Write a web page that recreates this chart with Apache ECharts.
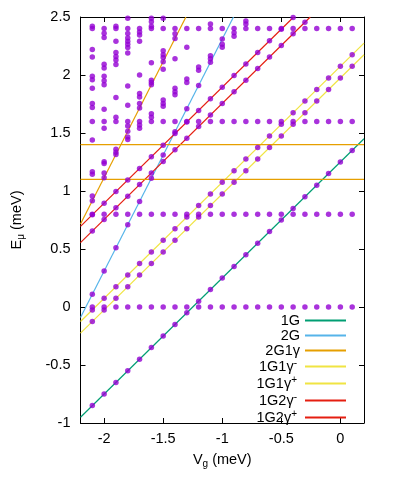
<!DOCTYPE html>
<html>
<head>
<meta charset="utf-8">
<style>
  html, body { margin: 0; padding: 0; background: #fff; }
  #main { width: 399px; height: 487px; }
</style>
<script src="https://cdn.jsdelivr.net/npm/echarts@6.0.0/dist/echarts.min.js"></script>
</head>
<body>
<div id="main"></div>
<script>
// 每一列的 Vg 取值
var vgCols = [-2.1, -2.0, -1.9, -1.8, -1.7, -1.6, -1.5, -1.4, -1.3, -1.2, -1.1, -1.0,
              -0.9, -0.8, -0.7, -0.6, -0.5, -0.4, -0.3, -0.2, -0.1, 0.0, 0.1];

// 落在各条线上的点 (从左边第一列开始)
var dots1G = [-0.85, -0.75, -0.65, -0.55, -0.45, -0.35, -0.25, -0.15, -0.05, 0.05, 0.15, 0.25,
              0.35, 0.45, 0.55, 0.65, 0.75, 0.85, 0.95, 1.05, 1.15, 1.25, 1.35];
var dots2G = [0.11, 0.31, 0.51, 0.71, 0.91, 1.11, 1.31, 1.51, 1.71, 1.91, 2.11, 2.31];
var dots2G1g = [0.915, 1.115, 1.315, 1.515, 1.715, 1.915, 2.115, 2.315];
var dotsYlow = [-0.125, -0.025, 0.075, 0.175, 0.275, 0.375, 0.475, 0.575, 0.675, 0.775, 0.875, 0.975,
                1.075, 1.175, 1.275, 1.375, 1.475, 1.575, 1.675, 1.775, 1.875, 1.975, 2.075];
var dotsYup = [-0.025, 0.075, 0.175, 0.275, 0.375, 0.475, 0.575, 0.675, 0.775, 0.875, 0.975, 1.075,
               1.175, 1.275, 1.375, 1.475, 1.575, 1.675, 1.775, 1.875, 1.975, 2.075, 2.175];
var dotsRlow = [0.655, 0.755, 0.855, 0.955, 1.055, 1.155, 1.255, 1.355, 1.455, 1.555, 1.655, 1.755,
                1.855, 1.955, 2.055, 2.155, 2.255, 2.355, 2.455];
var dotsRup = [0.795, 0.895, 0.995, 1.095, 1.195, 1.295, 1.395, 1.495, 1.595, 1.695, 1.795, 1.895,
               1.995, 2.095, 2.195, 2.295, 2.395, 2.495];
// 每一列都有的水平点行
var flatLevels = [0, 0.8, 1.6, 2.4];

// 其余散点 [Vg, E]
var extraDots = [
    [-2.1, 2.42], [-2.1, 2.22], [-2.1, 2.155], [-2.1, 1.99], [-2.1, 1.96], [-2.1, 1.885],
    [-2.1, 1.755], [-2.1, 1.72], [-2.1, 1.44], [-2.1, 1.165], [-2.1, 1.145], [-2.1, 0.957],
    [-2.0, 2.36], [-2.0, 2.323], [-2.0, 2.093], [-2.0, 2.06], [-2.0, 1.99], [-2.0, 1.95],
    [-2.0, 1.915], [-2.0, 1.705], [-2.0, 1.54], [-2.0, 1.252], [-2.0, 1.238], [-2.0, 1.155],
    [-1.9, 2.42], [-1.9, 2.29], [-1.9, 2.195], [-1.9, 2.16], [-1.9, 2.13], [-1.9, 2.09],
    [-1.9, 1.805], [-1.9, 1.635], [-1.9, 1.36], [-1.9, 1.335],
    [-1.8, 2.49], [-1.8, 2.357], [-1.8, 2.32], [-1.8, 2.29], [-1.8, 2.265], [-1.8, 2.237],
    [-1.8, 2.19], [-1.8, 1.905], [-1.8, 1.74], [-1.8, 1.56], [-1.8, 1.465], [-1.8, 1.445],
    [-1.7, 2.37], [-1.7, 2.345], [-1.7, 2.29], [-1.7, 2.0], [-1.7, 1.84], [-1.7, 1.81],
    [-1.7, 1.755], [-1.7, 1.57], [-1.7, 1.54],
    [-1.6, 2.49], [-1.6, 2.46], [-1.6, 2.42], [-1.6, 2.105], [-1.6, 1.955], [-1.6, 1.935],
    [-1.6, 1.665], [-1.6, 1.635],
    [-1.5, 2.49], [-1.5, 2.21], [-1.5, 2.175], [-1.5, 2.15], [-1.5, 2.05], [-1.5, 1.785],
    [-1.5, 1.755], [-1.5, 1.73],
    [-1.4, 2.355], [-1.4, 2.14], [-1.4, 1.885], [-1.4, 1.855], [-1.4, 1.83],
    [-1.3, 2.24], [-1.3, 1.965], [-1.3, 1.935],
    [-1.2, 2.07], [-1.2, 2.04],
    [-1.1, 2.44], [-1.1, 2.165], [-1.1, 2.14],
    [-1.0, 2.265], [-1.0, 2.24],
    [-0.9, 2.365], [-0.9, 2.335],
    [-0.8, 2.465], [-0.8, 2.44]
];

// 线的端点 [Vg, E]
var line1G = [[-2.2, -0.95], [0.2, 1.45]];
var line2G = [[-2.2, -0.09], [-0.905, 2.5]];
var line2G1g = [[-2.2, 0.715], [-1.3075, 2.5]];
var line1G1gm = [[-2.2, -0.225], [0.2, 2.175]];
var line1G1gp = [[-2.2, -0.125], [0.2, 2.275]];
var line1G2gm = [[-2.2, 0.555], [-0.255, 2.5]];
var line1G2gp = [[-2.2, 0.695], [-0.395, 2.5]];
var hline1 = [[-2.2, 1.4], [0.2, 1.4]];
var hline2 = [[-2.2, 1.1], [0.2, 1.1]];

var xTicks = [-2, -1.5, -1, -0.5, 0];

(function () {
    var myChart = echarts.init(document.getElementById('main'));
    var font = 'Liberation Sans, Arial, sans-serif';

    // 组装散点
    var scatterData = [];
    function addCol(arr) {
        arr.forEach(function (e, i) { scatterData.push([vgCols[i], e]); });
    }
    [dots1G, dots2G, dots2G1g, dotsYlow, dotsYup, dotsRlow, dotsRup].forEach(addCol);
    vgCols.forEach(function (v) {
        flatLevels.forEach(function (e) { scatterData.push([v, e]); });
    });
    extraDots.forEach(function (p) { scatterData.push(p); });

    function lineSeries(name, data, color) {
        return {
            name: name,
            type: 'line',
            data: data,
            symbol: 'none',
            silent: true,
            lineStyle: { color: color, width: 1.2 },
            itemStyle: { color: color }
        };
    }

    var axisCommon = {
        type: 'value',
        splitLine: { show: false },
        axisLine: { show: true, onZero: false, lineStyle: { color: '#000', width: 1 } },
        axisTick: { show: true, inside: true, length: 5, lineStyle: { color: '#000' } }
    };

    // 图例文字 (上标)
    var legendNames = {
        '1G': '{n|1G}',
        '2G': '{n|2G}',
        '2G1γ': '{n|2G1γ}',
        '1G1γ-': '{n|1G1γ}{s|-}',
        '1G1γ+': '{n|1G1γ}{s|+}',
        '1G2γ-': '{n|1G2γ}{s|-}',
        '1G2γ+': '{n|1G2γ}{s|+}'
    };

    var option = {
        animation: false,
        grid: { left: 74, right: 35, top: 17, bottom: 64 },
        legend: {
            data: ['1G', '2G', '2G1γ', '1G1γ-', '1G1γ+', '1G2γ-', '1G2γ+'],
            orient: 'vertical',
            align: 'right',
            right: 53,
            top: 313,
            padding: 0,
            itemGap: 0,
            itemWidth: 41,
            itemHeight: 2,
            icon: 'rect',
            selectedMode: false,
            formatter: function (name) { return legendNames[name]; },
            textStyle: {
                color: '#000',
                rich: {
                    n: { fontFamily: font, fontSize: 14.5, lineHeight: 15, color: '#000' },
                    s: { fontFamily: font, fontSize: 10, lineHeight: 8, color: '#000', padding: [0, 3, 7, 0] }
                }
            }
        },
        xAxis: [
            Object.assign({}, axisCommon, {
                min: -2.2, max: 0.2,
                position: 'bottom',
                axisTick: Object.assign({}, axisCommon.axisTick, { customValues: xTicks }),
                axisLabel: { customValues: xTicks, color: '#000', fontFamily: font, fontSize: 14.5, margin: 8 },
                name: '{v|V}{s|g}{v| (meV)}',
                nameLocation: 'middle',
                nameGap: 28,
                nameTextStyle: {
                    rich: {
                        v: { fontFamily: font, fontSize: 14.5, lineHeight: 15, color: '#000' },
                        s: { fontFamily: font, fontSize: 10, lineHeight: 10, color: '#000', padding: [8, 0, 0, 0] }
                    }
                }
            }),
            Object.assign({}, axisCommon, {
                min: -2.2, max: 0.2,
                position: 'top',
                axisTick: Object.assign({}, axisCommon.axisTick, { customValues: xTicks }),
                axisLabel: { show: false }
            })
        ],
        yAxis: [
            Object.assign({}, axisCommon, {
                min: -1, max: 2.5, interval: 0.5,
                position: 'left',
                axisLabel: { color: '#000', fontFamily: font, fontSize: 14.5, margin: 10 },
                name: '{v|E}{s|μ}{v| (meV)}',
                nameLocation: 'middle',
                nameRotate: 90,
                nameGap: 56,
                nameTextStyle: {
                    rich: {
                        v: { fontFamily: font, fontSize: 14.5, lineHeight: 15, color: '#000' },
                        s: { fontFamily: font, fontSize: 10, lineHeight: 10, color: '#000', padding: [8, 0, 0, 0] }
                    }
                }
            }),
            Object.assign({}, axisCommon, {
                min: -1, max: 2.5, interval: 0.5,
                position: 'right',
                axisLabel: { show: false }
            })
        ],
        series: [
            lineSeries('1G', line1G, '#009e73'),
            lineSeries('2G', line2G, '#56b4e9'),
            lineSeries('2G1γ', line2G1g, '#e69f00'),
            lineSeries('1G1γ-', line1G1gm, '#f0e442'),
            lineSeries('1G1γ+', line1G1gp, '#f0e442'),
            lineSeries('1G2γ-', line1G2gm, '#e51e10'),
            lineSeries('1G2γ+', line1G2gp, '#e51e10'),
            lineSeries('h1', hline1, '#e69f00'),
            lineSeries('h2', hline2, '#e69f00'),
            {
                name: 'dots',
                type: 'scatter',
                data: scatterData,
                symbol: 'circle',
                symbolSize: 5.5,
                z: 5,
                silent: true,
                itemStyle: { color: '#9400d3' }
            }
        ]
    };
    myChart.setOption(option);
    window.addEventListener('resize', function () {
        myChart.resize();
    });
})();
</script>
</body>
</html>
